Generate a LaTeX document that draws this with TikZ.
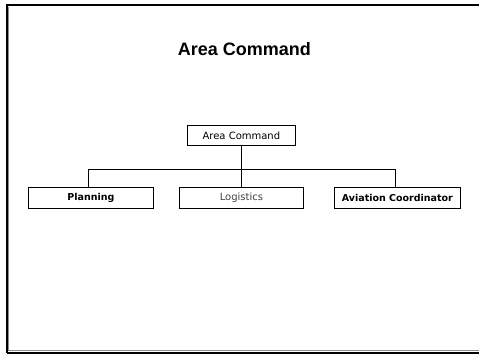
\documentclass[tikz,border=0pt]{standalone}
\usepackage{fontspec}
\setmainfont{Liberation Sans}
\newfontfamily\boxfont{DejaVu Sans}
\begin{document}
\begin{tikzpicture}[x=1pt,y=-1pt,
  orgbox/.style={draw=black,line width=0.8pt,fill=white,inner sep=0pt,anchor=north west,font=\boxfont\fontsize{10}{11}\selectfont},
  boldbox/.style={orgbox,font=\boxfont\bfseries\fontsize{9.5}{11}\selectfont},
  conn/.style={draw=black,line width=0.8pt}]
\useasboundingbox (0,0) rectangle (479,354);
\fill[white] (0,0) rectangle (479,354);
% frame
\draw[black!45,line width=0.8pt] (8.5,6.5) -- (8.5,350.5) -- (479,350.5);
\draw[black,line width=1.3pt] (7,353) -- (7,5) -- (480,5);
\draw[black,line width=2.2pt] (7,353) -- (480,353);
% title
\node (title) at (244.5,49) {\fontsize{18}{20}\bfseries\selectfont Area Command};
% boxes
\node[orgbox,minimum width=108pt,minimum height=20pt] (ac) at (187,125) {Area Command};
\node[boldbox,minimum width=125pt,minimum height=21pt] (plan) at (28,187) {Planning};
\node[orgbox,minimum width=124pt,minimum height=21pt,text=black!75] (log) at (179,187) {Logistics};
\node[boldbox,minimum width=126pt,minimum height=21pt] (avi) at (334,187) {Aviation Coordinator};
% connectors
\coordinate (bar) at (240,169);
\draw[conn] (ac.south) -- (ac.south |- bar);
\draw[conn] (88,187) -- (88,169) -- (395,169) -- (395,187);
\draw[conn] (ac.south |- bar) -- (log.north -| ac.south);
\end{tikzpicture}
\end{document}
